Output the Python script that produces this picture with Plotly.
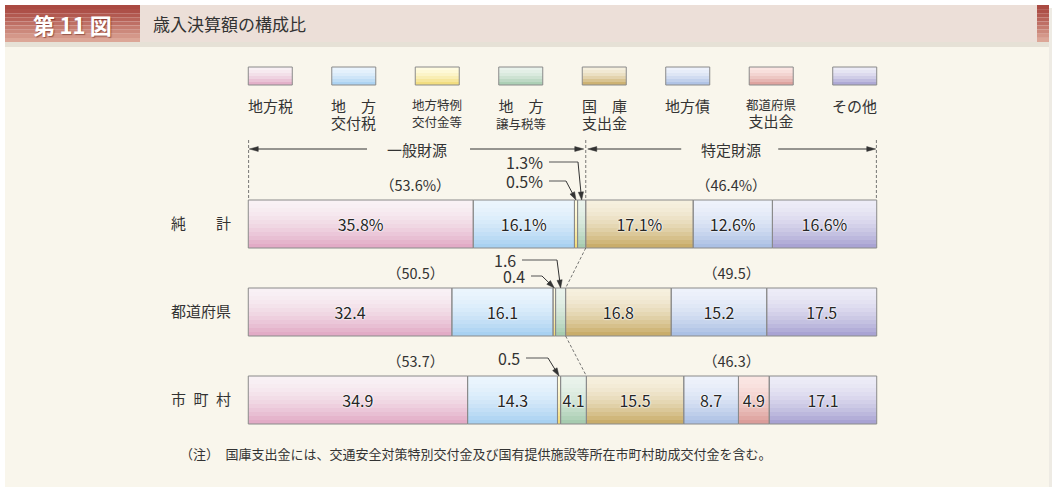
import plotly.graph_objects as go

# ---------------- data ----------------
categories = ["純計", "都道府県", "市町村"]
category_labels = ["純　　計", "都道府県", "市\u2002町\u2002村"]
series_names = ["地方税", "地方交付税", "地方特例交付金等", "地方譲与税等",
                "国庫支出金", "地方債", "都道府県支出金", "その他"]
legend_line1 = ["地方税", "地　方", "地方特例", "地　方", "国　庫", "地方債", "都道府県", "その他"]
legend_line2 = ["", "交付税", "交付金等", "譲与税等", "支出金", "", "支出金", ""]

chihouzei = [35.8, 32.4, 34.9]
koufuzei = [16.1, 16.1, 14.3]
tokurei = [0.5, 0.4, 0.5]
jouyozei = [1.3, 1.6, 4.1]
kokko = [17.1, 16.8, 15.5]
chihousai = [12.6, 15.2, 8.7]
todoufuken = [0.0, 0.0, 4.9]
sonota = [16.6, 17.5, 17.1]

general_share = [53.6, 50.5, 53.7]
specific_share = [46.4, 49.5, 46.3]
span_labels = ["一般財源", "特定財源"]

title_num = "第\u200911\u2009図"
title_text = "歳入決算額の構成比"
footnote = "（注）\u2002国庫支出金には、交通安全対策特別交付金及び国有提供施設等所在市町村助成交付金を含む。"

series = [chihouzei, koufuzei, tokurei, jouyozei, kokko, chihousai, todoufuken, sonota]
grad_top = ["#F9F1F5", "#EBF5FD", "#FFFCE2", "#EAF3EC", "#F6F0DF", "#EEF2FB", "#FBE6E3", "#EDECF7"]
grad_bot = ["#E0A6C2", "#A3CEF0", "#F0D870", "#A2C9AC", "#C6A862", "#A6BCE2", "#D99894", "#A49ED0"]

FONT = "Noto Sans CJK JP"
TXT = "#333333"
EDGE = "#8a8a8a"

# ---------------- geometry helpers ----------------
W, H = 1058, 487
L, R, T, B = 242, 175, 40, 43
XR = [-1, 101]
PXU = (W - L - R) / (XR[1] - XR[0])
ROW = 88.0
Y0PX = 224.0
YR = [2.5, 2.5 - (H - T - B) / ROW]
BAR_H = 48 / ROW


def dx(px):
    return XR[0] + (px - L) / PXU


def dy(py):
    return (py - Y0PX) / ROW


def to_px(x):
    return L + (x - XR[0]) * PXU


def to_py(y):
    return Y0PX + y * ROW


def paper_x(px):
    return (px - L) / (W - L - R)


def paper_y(py):
    return (H - B - py) / (H - T - B)


def hex2rgb(h):
    h = h.lstrip('#')
    return tuple(int(h[i:i + 2], 16) for i in (0, 2, 4))


def mix(a, b, t):
    ra, rb = hex2rgb(a), hex2rgb(b)
    return 'rgb(%d,%d,%d)' % tuple(round(p + (q - p) * t) for p, q in zip(ra, rb))


rows = list(range(len(categories)))
bases = []
run = [0.0] * len(rows)
for s in series:
    bases.append(run[:])
    run = [r + v for r, v in zip(run, s)]
general_end = [sum(s[r] for s in series[:4]) for r in rows]

fig = go.Figure()

# gradient stripes
N = 12
for i, (s, b) in enumerate(zip(series, bases)):
    for k in range(N):
        t = ((k + 0.5) / N) ** 1.7
        fig.add_trace(go.Bar(
            orientation='h', y=rows, x=s, base=b,
            width=BAR_H / N, offset=-BAR_H / 2 + k * BAR_H / N,
            marker=dict(color=mix(grad_top[i], grad_bot[i], t), line=dict(width=0)),
            hoverinfo='skip', showlegend=False))

# outlines + labels
for i, (s, b) in enumerate(zip(series, bases)):
    xs = [v if v > 0 else None for v in s]
    texts = []
    for r, v in zip(rows, s):
        if v < 2:
            texts.append("")
        else:
            texts.append(("%.1f%%" % v) if r == 0 else ("%.1f" % v))
    fig.add_trace(go.Bar(
        orientation='h', y=rows, x=xs, base=b, width=BAR_H,
        name=series_names[i],
        marker=dict(color='rgba(0,0,0,0)', line=dict(color=EDGE, width=1)),
        text=texts, textposition='inside', insidetextanchor='middle',
        textangle=0, constraintext='none',
        textfont=dict(family=FONT, size=16, color="#262626",
                      shadow="0px 0px 2px #ffffff, 0px 0px 2px #ffffff, 0px 0px 1px #ffffff"),
        hoverinfo='skip', showlegend=False))

shapes = []
annotations = []

# panel + header
shapes.append(dict(type='rect', xref='paper', yref='paper', x0=paper_x(5), x1=paper_x(1049),
                   y0=paper_y(490), y1=paper_y(42), fillcolor='#F9F6EC', line_width=0, layer='below'))
shapes.append(dict(type='rect', xref='paper', yref='paper', x0=paper_x(5), x1=paper_x(1051),
                   y0=paper_y(47), y1=paper_y(42), fillcolor='#E6E1D6', line_width=0, layer='below'))
shapes.append(dict(type='rect', xref='paper', yref='paper', x0=paper_x(1049), x1=paper_x(1052),
                   y0=paper_y(490), y1=paper_y(8), fillcolor='#EEEBE4', line_width=0, layer='below'))
shapes.append(dict(type='rect', xref='paper', yref='paper', x0=paper_x(140), x1=paper_x(1037),
                   y0=paper_y(42), y1=paper_y(5), fillcolor='#ECDFD8', line_width=0, layer='below'))
NS = 9
for k in range(NS):
    ya, yb = 5 + k * 37 / NS, 5 + (k + 1) * 37 / NS
    col = mix("#AA4A42", "#DCA697", (k / (NS - 1)) ** 1.3)
    for xa, xb in ((5, 140), (1037, 1049)):
        shapes.append(dict(type='rect', xref='paper', yref='paper', x0=paper_x(xa), x1=paper_x(xb),
                           y0=paper_y(yb), y1=paper_y(ya), fillcolor=col, line_width=0, layer='below'))
annotations.append(dict(xref='paper', yref='paper', x=paper_x(72), y=paper_y(24), text="<b>%s</b>" % title_num,
                        showarrow=False, font=dict(family=FONT, size=22, color='white',
                                                   shadow="1px 1px 1px rgba(90,20,10,0.5)"),
                        xanchor='center', yanchor='middle'))
annotations.append(dict(xref='paper', yref='paper', x=paper_x(151), y=paper_y(24), text=title_text,
                        showarrow=False, font=dict(family=FONT, size=17, color=TXT),
                        xanchor='left', yanchor='middle'))

# legend
box_w = 44 / PXU
step = (100 - box_w) / (len(series) - 1)
for i in range(len(series)):
    x0 = i * step
    x1 = x0 + box_w
    ytop, ybot = dy(67), dy(85)
    ns = 6
    for k in range(ns):
        ya = ytop + (ybot - ytop) * k / ns
        yb = ytop + (ybot - ytop) * (k + 1) / ns
        shapes.append(dict(type='rect', xref='x', yref='y', x0=x0, x1=x1, y0=ya, y1=yb,
                           fillcolor=mix(grad_top[i], grad_bot[i], ((k + 0.5) / ns) ** 1.7),
                           line_width=0))
    shapes.append(dict(type='rect', xref='x', yref='y', x0=x0, x1=x1, y0=ytop, y1=ybot,
                       fillcolor='rgba(0,0,0,0)', line=dict(color=EDGE, width=1)))
    parts = []
    for line_txt in (legend_line1[i], legend_line2[i]):
        if not line_txt:
            continue
        size = 12.5 if len(line_txt) >= 4 else 15
        parts.append('<span style="font-size:%spx">%s</span>' % (size, line_txt))
    annotations.append(dict(xref='x', yref='y', x=(x0 + x1) / 2, y=dy(93), text="<br>".join(parts),
                            showarrow=False, font=dict(family=FONT, size=13, color=TXT),
                            xanchor='center', yanchor='top', align='center'))


def arrow(tx, ty, hx, hy, length=9.0, half=2.4, color='#333333', width=1.0):
    """line from tail (tx,ty) to head (hx,hy) in data coords, with a filled triangular head"""
    tpx, tpy, hpx, hpy = to_px(tx), to_py(ty), to_px(hx), to_py(hy)
    vx, vy = hpx - tpx, hpy - tpy
    d = (vx * vx + vy * vy) ** 0.5
    ux, uy = vx / d, vy / d
    bx, by = hpx - ux * length, hpy - uy * length
    p1 = (bx - uy * half, by + ux * half)
    p2 = (bx + uy * half, by - ux * half)
    shapes.append(dict(type='line', xref='x', yref='y', x0=tx, y0=ty, x1=dx(bx + ux), y1=dy(by + uy),
                       line=dict(color=color, width=width)))
    shapes.append(dict(type='path', xref='x', yref='y',
                       path="M%f,%f L%f,%f L%f,%f Z" % (hx, hy, dx(p1[0]), dy(p1[1]), dx(p2[0]), dy(p2[1])),
                       fillcolor=color, line=dict(color=color, width=0.5)))


def seg(x0, y0, x1, y1, color='#444444', width=1.0, dash=None):
    ln = dict(color=color, width=width)
    if dash:
        ln['dash'] = dash
    shapes.append(dict(type='line', xref='x', yref='y', x0=x0, y0=y0, x1=x1, y1=y1, line=ln))


# span brackets above the first bar
ge = general_end[0]
span_y = dy(149)
for xv in (0.05, ge, 99.95):
    seg(xv, dy(140), xv, dy(200), color='#555555', width=0.8, dash='3px,2px')
cg = ge / 2
cs = (ge + 100) / 2
u = 1 / PXU
arrow(cg - 50 * u, span_y, 1 * u, span_y)
arrow(cg + 53 * u, span_y, ge - 2 * u, span_y)
arrow(cs - 50 * u, span_y, ge + 2 * u, span_y)
arrow(cs + 47 * u, span_y, 100 - 1 * u, span_y)
for c, lab in zip((cg, cs), span_labels):
    annotations.append(dict(xref='x', yref='y', x=c, y=span_y, text=lab, showarrow=False,
                            font=dict(family=FONT, size=15, color=TXT), xanchor='center', yanchor='middle'))

# group shares
for r in rows:
    suffix = "%" if r == 0 else ""
    for c, val in ((cg - 0.3, general_share[r]), (cs, specific_share[r])):
        annotations.append(dict(xref='x', yref='y', x=c, y=r - 0.45,
                                text="（%.1f%s）" % (val, suffix), showarrow=False,
                                font=dict(family=FONT, size=14.5, color=TXT),
                                xanchor='center', yanchor='middle'))

# dashed connectors between rows at the general / specific boundary
for r in rows[:-1]:
    seg(general_end[r], r + BAR_H / 2, general_end[r + 1], r + 1 - BAR_H / 2,
        color='#555555', width=0.8, dash='3px,2px')

# leader lines for tiny segments: (row, series index, text right px, text y px, bend px)
leaders = [
    (0, 3, 545, 162, 578),
    (0, 2, 545, 181, 566),
    (1, 3, 518, 260, 557),
    (1, 2, 527, 276, 542),
    (2, 2, 522, 358, 548),
]
for r, si, tx_px, ty_px, bend_px in leaders:
    v = series[si][r]
    tip_x = bases[si][r] + v / 2
    tip_y = r - BAR_H / 2
    seg(dx(tx_px + 4), dy(ty_px), dx(bend_px), dy(ty_px), color='#555555', width=1)
    arrow(dx(bend_px), dy(ty_px), tip_x, tip_y, length=8, half=2.6)


def leader_text(r, si):
    v = series[si][r]
    return ("%.1f%%" % v) if r == 0 else ("%.1f" % v)


# leader labels (stacked pairs share one text block)
lead_font = dict(family=FONT, size=14.6, color=TXT)
annotations.append(dict(xref='x', yref='y', x=dx(545), y=dy(171.5),
                        text='<span style="font-size:16px">%s<br>%s</span>' % (leader_text(0, 3), leader_text(0, 2)),
                        showarrow=False, font=lead_font, xanchor='right', yanchor='middle', align='right'))
annotations.append(dict(xref='x', yref='y', x=dx(527), y=dy(268),
                        text='<span style="font-size:16px">%s\u2007<br>%s</span>' % (leader_text(1, 3), leader_text(1, 2)),
                        showarrow=False, font=dict(family=FONT, size=12.4, color=TXT),
                        xanchor='right', yanchor='middle', align='right'))
annotations.append(dict(xref='x', yref='y', x=dx(522), y=dy(358), text=leader_text(2, 2), showarrow=False,
                        font=dict(family=FONT, size=16, color=TXT), xanchor='right', yanchor='middle'))

# footnote
annotations.append(dict(xref='paper', yref='paper', x=paper_x(178), y=paper_y(453), text=footnote,
                        showarrow=False, font=dict(family=FONT, size=13, color=TXT),
                        xanchor='left', yanchor='middle'))

fig.update_layout(
    width=W, height=H, autosize=False,
    margin=dict(l=L, r=R, t=T, b=B, pad=0),
    paper_bgcolor='white', plot_bgcolor='rgba(0,0,0,0)',
    barmode='overlay', showlegend=False,
    xaxis=dict(range=XR, visible=False, fixedrange=True),
    yaxis=dict(range=YR, tickmode='array', tickvals=rows, ticktext=category_labels,
               showgrid=False, zeroline=False, showline=False, ticks='',
               ticklabelstandoff=10,
               tickfont=dict(family=FONT, size=15, color=TXT), fixedrange=True),
    shapes=shapes, annotations=annotations,
    font=dict(family=FONT, color=TXT),
)

fig.write_html("out.html", config={"displayModeBar": False},
               post_script="document.body.style.margin='0px';document.body.style.overflow='hidden';")
